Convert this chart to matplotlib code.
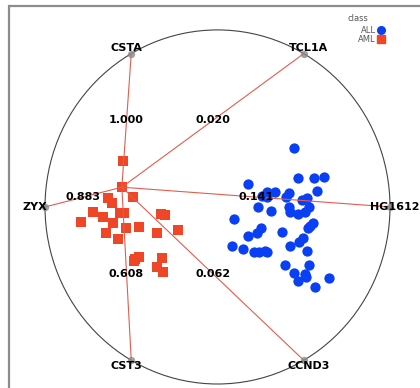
import numpy as np
import matplotlib.pyplot as plt
from matplotlib.patches import Circle, Rectangle
from matplotlib.lines import Line2D

# anchors of the radviz circle, counter-clockwise from 0 degrees
features = ["HG1612", "TCL1A", "CSTA", "ZYX", "CST3", "CCND3"]
# normalised feature values of the selected AML sample
selected_values = [0.141, 0.020, 1.000, 0.883, 0.608, 0.062]

# projected positions of the remaining samples
aml_x = [-0.550, -0.492, -0.633, -0.613, -0.724, -0.662, -0.565, -0.542,
         -0.793, -0.607, -0.530, -0.455, -0.646, -0.575, -0.329, -0.302,
         -0.229, -0.349, -0.478, -0.455, -0.484, -0.320, -0.353, -0.318]
aml_y = [0.262, 0.058, 0.049, 0.021, -0.030, -0.055, -0.032, -0.032,
         -0.083, -0.088, -0.120, -0.111, -0.145, -0.183, -0.040, -0.045,
         -0.130, -0.149, -0.295, -0.281, -0.303, -0.286, -0.337, -0.369]

all_x = [0.445, 0.465, 0.558, 0.616, 0.175, 0.575, 0.285, 0.333, 0.415,
         0.395, 0.285, 0.487, 0.516, 0.233, 0.310, 0.415, 0.420, 0.465,
         0.507, 0.530, 0.096, 0.555, 0.536, 0.526, 0.252, 0.229, 0.179,
         0.376, 0.493, 0.475, 0.420, 0.084, 0.145, 0.212, 0.241, 0.275,
         0.287, 0.517, 0.391, 0.532, 0.443, 0.510, 0.465, 0.646, 0.565,
         0.513, 0.258]
all_y = [0.335, 0.165, 0.162, 0.168, 0.128, 0.092, 0.086, 0.083, 0.081,
         0.058, 0.054, 0.040, 0.048, -0.002, -0.023, 0.002, -0.028, -0.040,
         -0.027, 0.000, -0.070, -0.088, -0.106, -0.121, -0.121, -0.147,
         -0.162, -0.140, -0.174, -0.199, -0.220, -0.220, -0.239, -0.253,
         -0.256, -0.249, -0.257, -0.251, -0.328, -0.328, -0.373, -0.379,
         -0.417, -0.400, -0.450, -0.395, 0.060]

angles = 2 * np.pi * np.arange(len(features)) / len(features)
anchors = np.column_stack([np.cos(angles), np.sin(angles)])
vals = np.array(selected_values)
sel = (vals[:, None] * anchors).sum(axis=0) / vals.sum()

fig = plt.figure(figsize=(4.2, 3.88), dpi=100)
ax = fig.add_axes([0, 0, 1, 1])
ax.set_xlim(-1.261, 1.174)
ax.set_ylim(-1.0226, 1.169)
ax.axis("off")

ax.add_patch(Circle((0, 0), 1.0, fill=False, edgecolor="#444444", lw=0.8, zorder=1))

blue = "#0a40f5"
red = "#ee4626"
ax.scatter(all_x, all_y, s=55, marker="o", color=blue, linewidths=0, zorder=3)
ax.scatter(aml_x + [sel[0]], aml_y + [sel[1]], s=48, marker="s", color=red,
           linewidths=0, zorder=3)

# spokes from the selected sample to every anchor, labelled with its values
for (axx, ayy), name, v in zip(anchors, features, selected_values):
    ax.plot([sel[0], axx], [sel[1], ayy], color="#e45c4e", lw=0.8, zorder=4)
    ax.text((sel[0] + axx) / 2, (sel[1] + ayy) / 2, f"{v:.3f}", fontsize=8,
            fontweight="bold", ha="center", va="center", zorder=6)
    ax.scatter([axx], [ayy], s=28, color="#8a8a8a", alpha=0.8, linewidths=0, zorder=5)
    # keep the right-hand label inside the page
    lx = min(axx * 1.06, 1.028)
    ax.text(lx, ayy * 1.04, name, fontsize=8, fontweight="bold",
            ha="center", va="center", zorder=6)

handles = [
    Line2D([], [], marker="o", linestyle="", color=blue, markersize=5.5),
    Line2D([], [], marker="s", linestyle="", color=red, markersize=5.5),
]
leg = fig.legend(handles, ["ALL", "AML"], loc="upper right",
                 bbox_to_anchor=(0.912, 0.934), frameon=False, markerfirst=False,
                 fontsize=6, handlelength=0.6, handletextpad=0.3,
                 labelspacing=0.05, borderpad=0.0, borderaxespad=0.0)
for t in leg.get_texts():
    t.set_color("#555555")
fig.text(348 / 420, 1 - 18.5 / 388, "class", fontsize=6, color="#555555",
         ha="left", va="center")

# page frame: only the top and left edges fall inside the image
fig.add_artist(Rectangle((9 / 420, -0.2), 1.5, 1.2 - 5.5 / 388,
                         transform=fig.transFigure, fill=False,
                         edgecolor="#8c8c8c", lw=1.6))

fig.savefig("out.png", dpi=100)
